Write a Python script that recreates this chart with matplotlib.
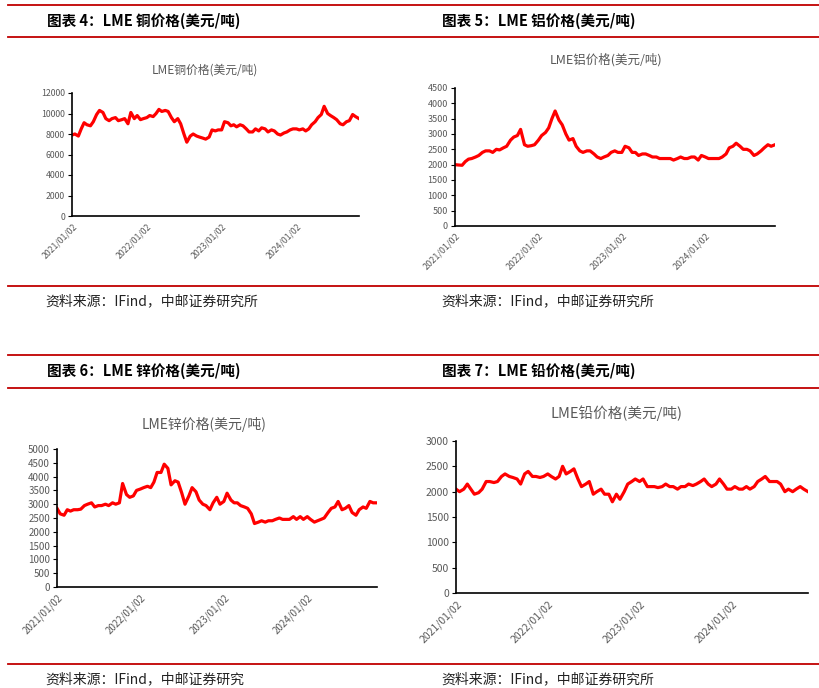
import pandas as pd
import numpy as np
import matplotlib.pyplot as plt
from matplotlib.lines import Line2D

plt.rcParams['font.family'] = ['Noto Sans CJK SC', 'DejaVu Sans']

# semi-monthly readings, 2021-01 .. 2024-11
dates = pd.date_range('2021-01-01', periods=93, freq='SMS')

copper = [7900, 8000, 7800, 8500, 9100, 8900, 8800, 9200, 9900, 10300, 10100, 9500,
          9300, 9500, 9600, 9300, 9400, 9500, 9000, 10100, 9500, 9800, 9400, 9500,
          9600, 9800, 9700, 10000, 10400, 10200, 10300, 10200, 9600, 9200, 9500, 9000,
          8000, 7200, 7800, 8000, 7800, 7700, 7600, 7500, 7700, 8400, 8300, 8400,
          8400, 9200, 9100, 8800, 8900, 8700, 8900, 8800, 8500, 8200, 8200, 8500,
          8300, 8600, 8500, 8200, 8400, 8300, 8000, 7900, 8100, 8200, 8400, 8500,
          8500, 8400, 8500, 8300, 8500, 8900, 9200, 9600, 9900, 10700, 10000, 9800,
          9600, 9400, 9000, 8900, 9200, 9300, 9900, 9700, 9500]

aluminum = [2000, 1990, 1980, 2100, 2180, 2200, 2250, 2300, 2400, 2450, 2450, 2400,
            2500, 2480, 2550, 2600, 2800, 2900, 2950, 3150, 2650, 2600, 2620, 2650,
            2800, 2950, 3050, 3200, 3500, 3750, 3450, 3300, 3000, 2800, 2850, 2600,
            2450, 2400, 2450, 2450, 2350, 2250, 2200, 2250, 2300, 2400, 2450, 2400,
            2400, 2600, 2550, 2400, 2400, 2300, 2350, 2350, 2300, 2250, 2250, 2200,
            2200, 2200, 2200, 2150, 2200, 2250, 2200, 2200, 2250, 2250, 2150, 2300,
            2250, 2200, 2200, 2200, 2200, 2250, 2350, 2550, 2600, 2700, 2600, 2500,
            2500, 2450, 2300, 2350, 2450, 2550, 2650, 2600, 2650]

zinc = [2850, 2650, 2600, 2800, 2750, 2800, 2800, 2820, 2950, 3000, 3050, 2900,
        2950, 2950, 3000, 2950, 3050, 3000, 3050, 3750, 3350, 3250, 3300, 3500,
        3550, 3600, 3650, 3600, 3800, 4150, 4150, 4450, 4300, 3700, 3850, 3800,
        3400, 3000, 3300, 3600, 3450, 3150, 3000, 2950, 2800, 3050, 3250, 3000,
        3100, 3400, 3150, 3050, 3050, 2950, 2900, 2850, 2650, 2300, 2350, 2400,
        2350, 2400, 2400, 2450, 2500, 2450, 2450, 2450, 2550, 2450, 2550, 2450,
        2550, 2450, 2350, 2400, 2450, 2500, 2700, 2850, 2900, 3100, 2800, 2850,
        2950, 2700, 2600, 2800, 2900, 2850, 3100, 3050, 3050]

lead = [2050, 2000, 2050, 2150, 2050, 1950, 1980, 2050, 2200, 2200, 2180, 2200,
        2300, 2350, 2300, 2280, 2250, 2150, 2350, 2400, 2300, 2300, 2280, 2300,
        2350, 2300, 2250, 2300, 2500, 2350, 2400, 2450, 2250, 2100, 2150, 2200,
        1950, 2000, 2050, 1950, 1950, 1800, 1950, 1850, 2000, 2150, 2200, 2250,
        2200, 2250, 2100, 2100, 2100, 2080, 2100, 2150, 2100, 2100, 2050, 2100,
        2100, 2150, 2120, 2150, 2200, 2250, 2150, 2100, 2150, 2250, 2150, 2050,
        2050, 2100, 2050, 2050, 2100, 2050, 2100, 2200, 2250, 2300, 2200, 2200,
        2200, 2150, 2000, 2050, 2000, 2050, 2100, 2050, 2000]

tick_dates = pd.to_datetime(['2021-01-02', '2022-01-02', '2023-01-02', '2024-01-02'])
tick_labels = ['2021/01/02', '2022/01/02', '2023/01/02', '2024/01/02']

W, H = 820, 688
fig = plt.figure(figsize=(W / 100, H / 100), dpi=100)

def px(x0, y0, x1, y1):
    return [x0 / W, 1 - y1 / H, (x1 - x0) / W, (y1 - y0) / H]

RED = '#C00000'
GRAY = '#595959'

# red rules and headers
for y in [5, 37, 286, 355, 388, 664]:
    fig.add_artist(Line2D([8 / W, 1], [1 - y / H, 1 - y / H], color=RED, lw=1.3))

headers = [(47, 21, '图表 4：LME 铜价格(美元/吨)'), (442, 21, '图表 5：LME 铝价格(美元/吨)'),
           (47, 371, '图表 6：LME 锌价格(美元/吨)'), (442, 371, '图表 7：LME 铅价格(美元/吨)')]
for x, y, s in headers:
    fig.text(x / W, 1 - y / H, s, fontsize=10.5, fontweight='bold', va='center', ha='left')

sources = [(45, 301, '资料来源：IFind，中邮证券研究所'), (441, 301, '资料来源：IFind，中邮证券研究所'),
           (45, 679, '资料来源：IFind，中邮证券研究'), (441, 679, '资料来源：IFind，中邮证券研究所')]
for x, y, s in sources:
    fig.text(x / W, 1 - y / H, s, fontsize=10, va='center', ha='left', color='#222222')

panels = [
    (copper, 'LME铜价格(美元/吨)', px(72, 93, 359, 216), 12000, 2000, (205, 70), 8.5, 6.3),
    (aluminum, 'LME铝价格(美元/吨)', px(455, 88, 775, 226), 4500, 500, (606, 60), 9, 6.5),
    (zinc, 'LME锌价格(美元/吨)', px(57, 449, 377, 587), 5000, 500, (204, 424), 10, 7),
    (lead, 'LME铅价格(美元/吨)', px(456, 441, 808, 593), 3000, 500, (617, 413), 10.5, 7.5),
]

for vals, title, rect, ymax, step, tpos, tsize, fsize in panels:
    ax = fig.add_axes(rect)
    ax.plot(dates, vals, color='#FF0000', lw=2.3, solid_joinstyle='round')
    ax.set_xlim(dates[0], dates[-1])
    ax.set_ylim(0, ymax)
    ax.set_yticks(np.arange(0, ymax + 1, step))
    ax.set_xticks(tick_dates)
    ax.set_xticklabels(tick_labels, rotation=45, ha='right', va='top', rotation_mode='anchor')
    ax.tick_params(axis='x', length=0, labelsize=fsize, labelcolor=GRAY, pad=4)
    ax.tick_params(axis='y', length=3, width=0.8, labelsize=fsize, labelcolor=GRAY, pad=2)
    for s in ['top', 'right']:
        ax.spines[s].set_visible(False)
    for s in ['left', 'bottom']:
        ax.spines[s].set_linewidth(1.2)
        ax.spines[s].set_color('black')
    fig.text(tpos[0] / W, 1 - tpos[1] / H, title, fontsize=tsize, color=GRAY, ha='center', va='center')

fig.savefig('out.png', dpi=100)
